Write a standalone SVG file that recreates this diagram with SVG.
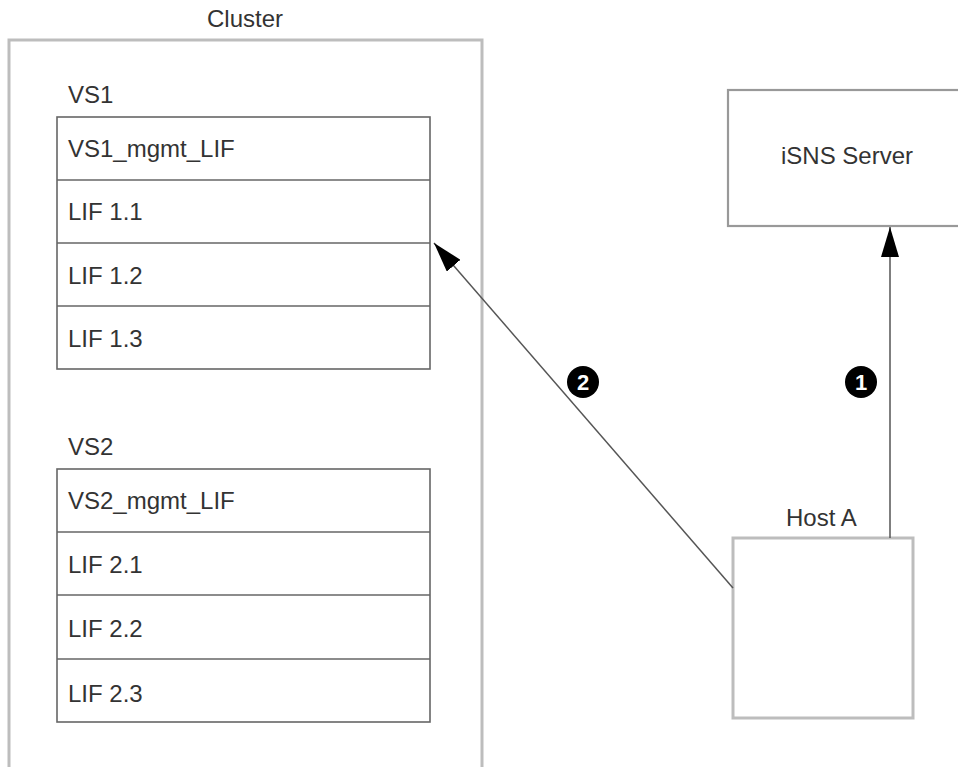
<svg xmlns="http://www.w3.org/2000/svg" width="958" height="767" viewBox="0 0 958 767">
<style>
  text { font-family: "Liberation Sans", Arial, sans-serif; font-size: 24px; fill: #333; }
  .cluster { fill: none; stroke: #bdbdbd; stroke-width: 3; }
  .tbl { fill: #fff; stroke: #666; stroke-width: 1.6; }
  .sep { stroke: #666; stroke-width: 1.6; }
  .isns { fill: #fff; stroke: #999; stroke-width: 2.2; }
  .host { fill: #fff; stroke: #bdbdbd; stroke-width: 3; }
  .conn { stroke: #555; stroke-width: 1.5; fill: none; marker-end: url(#arrow); }
  .badge circle { fill: #000; }
  .badge text { fill: #fff; font-weight: bold; font-size: 22px; text-anchor: middle; }
</style>
<defs>
  <marker id="arrow" viewBox="0 0 30 18" markerWidth="30" markerHeight="18" refX="30" refY="9" orient="auto" markerUnits="userSpaceOnUse">
    <path d="M0,0 L30,9 L0,18 z" fill="#000"/>
  </marker>
</defs>
<rect width="958" height="767" fill="#fff"/>

<g id="cluster">
  <rect class="cluster" x="9" y="40" width="473" height="760"/>
  <text x="207" y="27">Cluster</text>
</g>

<g id="vs1">
  <text x="68" y="103">VS1</text>
  <rect class="tbl" x="57" y="117" width="373" height="252"/>
  <line class="sep" x1="57" y1="180" x2="430" y2="180"/>
  <line class="sep" x1="57" y1="243" x2="430" y2="243"/>
  <line class="sep" x1="57" y1="306" x2="430" y2="306"/>
  <text x="68" y="157">VS1_mgmt_LIF</text>
  <text x="68" y="220">LIF 1.1</text>
  <text x="68" y="284">LIF 1.2</text>
  <text x="68" y="347">LIF 1.3</text>
</g>

<g id="vs2">
  <text x="68" y="455">VS2</text>
  <rect class="tbl" x="57" y="469" width="373" height="253"/>
  <line class="sep" x1="57" y1="532" x2="430" y2="532"/>
  <line class="sep" x1="57" y1="595" x2="430" y2="595"/>
  <line class="sep" x1="57" y1="659" x2="430" y2="659"/>
  <text x="68" y="509">VS2_mgmt_LIF</text>
  <text x="68" y="573">LIF 2.1</text>
  <text x="68" y="637">LIF 2.2</text>
  <text x="68" y="702">LIF 2.3</text>
</g>

<g id="isns-server">
  <rect class="isns" x="728" y="90" width="260" height="136"/>
  <text x="781" y="164">iSNS Server</text>
</g>

<g id="host-a">
  <rect class="host" x="733" y="538" width="180" height="180"/>
  <text x="786" y="526">Host A</text>
</g>

<g id="connectors">
  <line class="conn" x1="890" y1="538" x2="890" y2="227"/>
  <line class="conn" x1="733" y1="588" x2="434" y2="243"/>
  <g class="badge">
    <circle cx="861" cy="382" r="16"/>
    <text x="861" y="390">1</text>
  </g>
  <g class="badge">
    <circle cx="583" cy="382" r="16"/>
    <text x="583" y="390">2</text>
  </g>
</g>
</svg>
